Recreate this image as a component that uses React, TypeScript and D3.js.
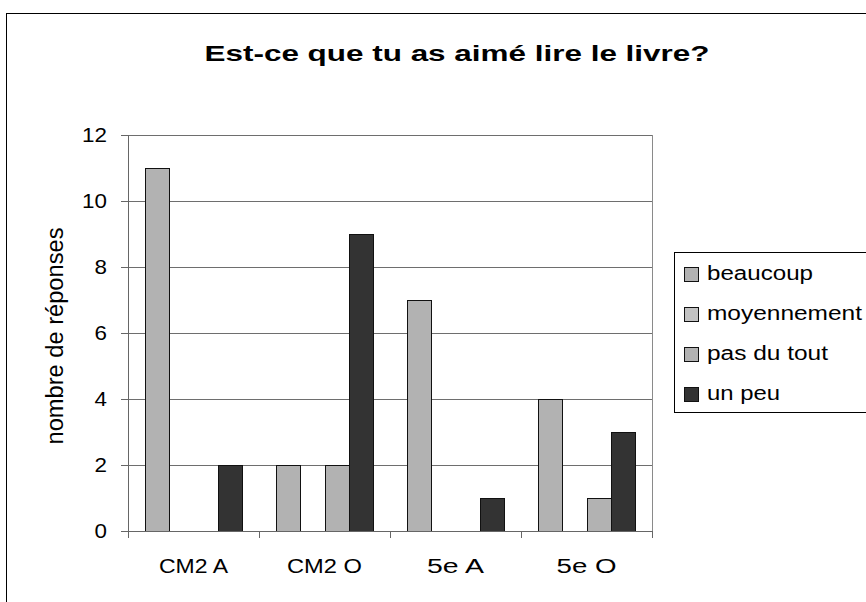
import * as d3 from "d3";

const categories = ["CM2 A", "CM2 O", "5e A", "5e O"];
const series = ["beaucoup", "moyennement", "pas du tout", "un peu"];
const beaucoup = [11, 2, 7, 4];
const moyennement = [0, 0, 0, 0];
const pasDuTout = [0, 2, 0, 1];
const unPeu = [2, 9, 1, 3];
const yTicks = [0, 2, 4, 6, 8, 10, 12];

// measured label widths in the reference (text is drawn a bit wider than the font)
const legendWidths = [106, 155, 121, 73];
const categoryWidths = [69, 75, 57, 60];

const colors = ["#b2b2b2", "#c2c2c2", "#b2b2b2", "#333333"];
const values = [beaucoup, moyennement, pasDuTout, unPeu];

export default function App() {
  const width = 866;
  const height = 602;
  const plot = { left: 128, right: 652, top: 135, bottom: 531 };

  const x = d3.scaleBand<string>().domain(categories).range([plot.left, plot.right]).padding(0);
  const xInner = d3
    .scaleBand<string>()
    .domain(series)
    .range([0, x.bandwidth()])
    .paddingInner(0)
    .paddingOuter(0.7);
  const y = d3.scaleLinear().domain([0, 12]).range([plot.bottom, plot.top]);

  const font = "'Liberation Sans', Arial, sans-serif";
  const px = (v: number) => Math.round(v) + 0.5;

  return (
    <svg
      width={width}
      height={height}
      style={{ position: "absolute", left: 0, top: 0, background: "#fff" }}
      fontFamily={font}
    >
      {/* outer frame */}
      <rect x={6.5} y={13.5} width={900} height={700} fill="#fff" stroke="#000" strokeWidth={1} />

      <text
        x={457}
        y={61}
        textAnchor="middle"
        fontSize={22}
        fontWeight="bold"
        fill="#000"
        textLength={505}
        lengthAdjust="spacingAndGlyphs"
      >
        Est-ce que tu as aimé lire le livre?
      </text>

      {/* grid lines */}
      {yTicks.filter((t) => t > 0).map((t) => (
        <line key={t} x1={plot.left} x2={plot.right} y1={px(y(t))} y2={px(y(t))} stroke="#6e6e6e" />
      ))}

      {/* right edge of plot */}
      <line x1={plot.right + 0.5} x2={plot.right + 0.5} y1={plot.top} y2={plot.bottom} stroke="#8a8a8a" />

      {/* bars */}
      {categories.map((c, ci) =>
        series.map((s, si) => {
          const v = values[si][ci];
          if (!v) return null;
          const bx = (x(c) ?? 0) + (xInner(s) ?? 0);
          return (
            <rect
              key={c + s}
              x={px(bx)}
              y={px(y(v))}
              width={Math.round(xInner.bandwidth())}
              height={Math.round(y(0)) - Math.round(y(v))}
              fill={colors[si]}
              stroke="#111"
              strokeWidth={1}
            />
          );
        })
      )}

      {/* y axis */}
      <line x1={plot.left + 0.5} x2={plot.left + 0.5} y1={plot.top} y2={plot.bottom} stroke="#666" />
      {yTicks.map((t) => (
        <g key={t}>
          <line x1={plot.left - 7} x2={plot.left} y1={px(y(t))} y2={px(y(t))} stroke="#666" />
          <g transform={`translate(107,${y(t) + 7}) scale(1.12,1)`}>
            <text textAnchor="end" fontSize={20} fill="#000">
              {t}
            </text>
          </g>
        </g>
      ))}

      {/* x axis */}
      <line x1={plot.left} x2={plot.right + 1} y1={px(y(0))} y2={px(y(0))} stroke="#666" />
      {[...categories.map((c) => x(c) ?? 0), plot.right].map((tx, i) => (
        <line key={i} x1={tx + 0.5} x2={tx + 0.5} y1={plot.bottom} y2={plot.bottom + 7} stroke="#666" />
      ))}
      {categories.map((c, i) => (
        <text
          key={c}
          x={(x(c) ?? 0) + x.bandwidth() / 2}
          y={573}
          textAnchor="middle"
          fontSize={20}
          fill="#000"
          textLength={categoryWidths[i]}
          lengthAdjust="spacingAndGlyphs"
        >
          {c}
        </text>
      ))}

      <text
        transform={`translate(63,336) rotate(-90)`}
        textAnchor="middle"
        fontSize={23}
        fill="#000"
        textLength={217}
        lengthAdjust="spacingAndGlyphs"
      >
        nombre de réponses
      </text>

      {/* legend */}
      <rect x={674.5} y={252.5} width={220} height={160} fill="#fff" stroke="#000" />
      {series.map((s, i) => {
        const base = 280 + i * 40;
        return (
          <g key={s}>
            <rect x={684.5} y={base - 13 + 0.5} width={14} height={14} fill={colors[i]} stroke="#111" />
            <text
              x={707}
              y={base}
              fontSize={20}
              fill="#000"
              textLength={legendWidths[i]}
              lengthAdjust="spacingAndGlyphs"
            >
              {s}
            </text>
          </g>
        );
      })}
    </svg>
  );
}
